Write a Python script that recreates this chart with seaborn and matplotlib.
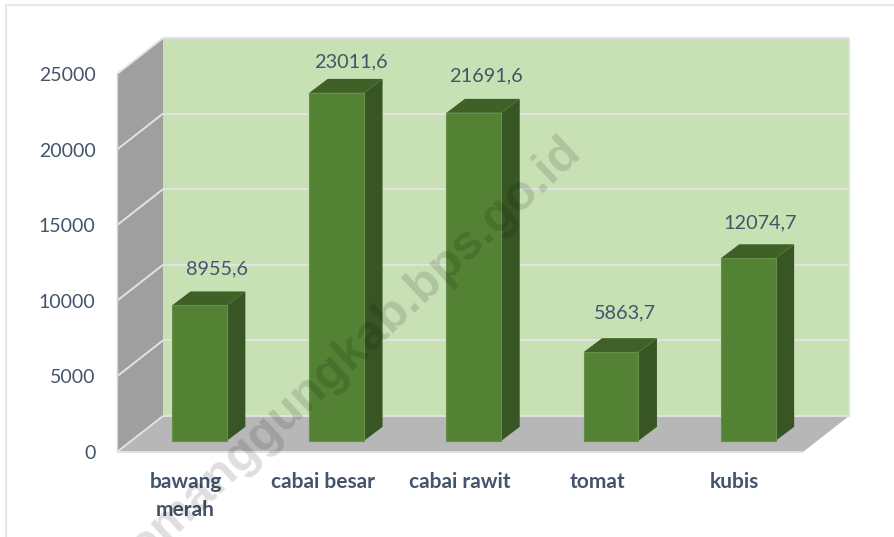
import matplotlib
matplotlib.use("Agg")
import matplotlib.pyplot as plt
from matplotlib.lines import Line2D
from matplotlib.patches import Polygon
import pandas as pd
import seaborn as sns

categories = ["bawang\nmerah", "cabai besar", "cabai rawit", "tomat", "kubis"]
values = [8955.6, 23011.6, 21691.6, 5863.7, 12074.7]
value_labels = ["8955,6", "23011,6", "21691,6", "5863,7", "12074,7"]
y_ticks = [0, 5000, 10000, 15000, 20000, 25000]

W, H = 894, 537
TEXT = "#44546a"
sns.set_theme(style="white")
plt.rcParams["font.family"] = ["Lato", "DejaVu Sans"]

fig = plt.figure(figsize=(W / 100, H / 100), dpi=100, facecolor="white")
L, R, T, B = 117, 803, 74, 452
ax = fig.add_axes([L / W, 1 - B / H, (R - L) / W, (B - T) / H])

df = pd.DataFrame({"cat": categories, "val": values})
sns.barplot(data=df, x="cat", y="val", color="#548235", saturation=1, width=0.4, ax=ax, zorder=6)
ax.set_xlim(-0.5, 4.5)
ax.set_ylim(0, 25000)
px = 5 / (R - L)
py = 25000 / (B - T)
ymax = 25000
xl, xr = -0.5, 4.5
DX, DY = 46 * px, 36 * py      # depth of the box
GRID = "#e1e3e8"


def poly(pts, color, z, ec="none", lw=0):
    ax.add_patch(Polygon(pts, closed=True, fc=color, ec=ec, lw=lw, zorder=z, clip_on=False))


def line(xs, ys, z=2, color=GRID, lw=1.4):
    ax.add_line(Line2D(xs, ys, color=color, lw=lw, zorder=z, clip_on=False, solid_capstyle="butt"))


# walls and floor
poly([(xl + DX, DY), (xr + DX, DY), (xr + DX, ymax + DY), (xl + DX, ymax + DY)], "#c7e1b5", 1)
poly([(xl, 0), (xl + DX, DY), (xl + DX, ymax + DY), (xl, ymax)], "#9f9f9f", 1)
poly([(xl, 0), (xr, 0), (xr + DX, DY), (xl + DX, DY)], "#b7b7b7", 3)

for t in y_ticks:
    if t > 0:
        line([xl, xl + DX], [t, t + DY])
        line([xl + DX, xr + DX], [t + DY, t + DY])
line([xl, xr], [0, 0], z=4)
line([xl, xl + DX], [0, DY], z=4)
line([xl + DX, xr + DX], [DY, DY], z=4)
line([xl, xl], [0, ymax], lw=1.0, color="#d5d5d5")
line([xr + DX, xr + DX], [DY, ymax + DY], lw=1.0)

# 3-D bars, derived from the seaborn bars
fx, fy = 0.30, 0.31
bx, by = 18.5 * px, 14 * py
label_nudges = [(18, 37), (14.5, 31), (12.5, 37), (13.5, 39), (11.5, 35)]   # pixels from the bar top
for bar, lab, (nx, ny) in zip(ax.containers[0].patches, value_labels, label_nudges):
    bar.set_x(bar.get_x() + DX * fx)
    bar.set_y(DY * fy)
    bar.set_edgecolor("#668f49")
    bar.set_linewidth(0.8)
    x0, x1 = bar.get_x(), bar.get_x() + bar.get_width()
    y0, y1 = bar.get_y(), bar.get_y() + bar.get_height()
    poly([(x1, y0), (x1 + bx, y0 + by), (x1 + bx, y1 + by), (x1, y1)], "#375623", 5)
    poly([(x0, y1), (x1, y1), (x1 + bx, y1 + by), (x0 + bx, y1 + by)], "#3f6128", 5)
    ax.text((x0 + x1) / 2 + nx * px, y1 + ny * py, lab, ha="center", va="center",
            fontsize=14.3, color=TEXT, zorder=8)

ax.set_xlabel("")
ax.set_ylabel("")
ax.set_yticks(y_ticks)
ax.tick_params(axis="both", length=0)
ax.tick_params(axis="y", pad=15.5, labelsize=14, labelcolor=TEXT)
ax.tick_params(axis="x", pad=14.5, labelsize=15, labelcolor=TEXT)
for lab in ax.get_xticklabels():
    lab.set_fontweight("bold")
    lab.set_linespacing(1.5)
ax.patch.set_visible(False)
for s in ax.spines.values():
    s.set_visible(False)
ax.grid(False)

# outer border (left and top only are visible in the crop)
fig.add_artist(Line2D([6 / W, 6 / W], [0, 1 - 5 / H], color="#e4e9ef", lw=1.6))
fig.add_artist(Line2D([6 / W, 1], [1 - 5 / H, 1 - 5 / H], color="#e4e9ef", lw=1.6))

# watermark
fig.text(350 / W, 1 - 355 / H, "temanggungkab.bps.go.id", fontsize=35.5, color="black", alpha=0.13,
         family="Liberation Sans", fontweight="bold", rotation=43,
         ha="center", va="center", rotation_mode="anchor", zorder=20)

fig.savefig("out.png", dpi=100)
